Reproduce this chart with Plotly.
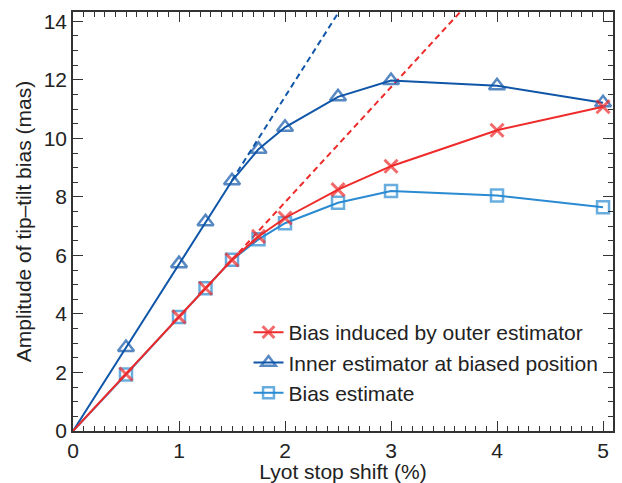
import plotly.graph_objects as go

shift = [0, 0.5, 1, 1.25, 1.5, 1.75, 2, 2.5, 3, 4, 5]
bias_outer = [0, 1.95, 3.9, 4.88, 5.85, 6.65, 7.28, 8.25, 9.05, 10.28, 11.08]
inner_biased = [0, 2.85, 5.72, 7.15, 8.55, 9.63, 10.38, 11.42, 11.98, 11.8, 11.22]
bias_est = [0, 1.93, 3.9, 4.88, 5.85, 6.55, 7.1, 7.8, 8.2, 8.05, 7.65]

inner_lin_x = [1.5, 2.6]
inner_lin_y = [8.57, 14.85]
outer_lin_x = [1.5, 3.8]
outer_lin_y = [5.85, 14.9]

RED = "#ee2a2a"
DBLUE = "#0f56a8"
LBLUE = "#2a8ad2"
FONT = "Liberation Sans, Arial"

def msizes(n, s):
    return [0] + [s] * (n - 1)

fig = go.Figure()
fig.add_trace(go.Scatter(x=inner_lin_x, y=inner_lin_y, mode="lines",
                         line=dict(color=DBLUE, width=2, dash="6px,4px"), showlegend=False))
fig.add_trace(go.Scatter(x=outer_lin_x, y=outer_lin_y, mode="lines",
                         line=dict(color=RED, width=2, dash="6px,4px"), showlegend=False))

fig.add_trace(go.Scatter(x=shift, y=bias_est, mode="lines+markers", name="Bias estimate",
                         line=dict(color=LBLUE, width=2),
                         marker=dict(symbol="square-open", size=msizes(len(shift), 12), color=LBLUE,
                                     line=dict(width=2.5, color=LBLUE))))
fig.add_trace(go.Scatter(x=shift, y=inner_biased, mode="lines+markers", name="Inner estimator at biased position",
                         line=dict(color=DBLUE, width=2),
                         marker=dict(symbol="triangle-up-open", size=msizes(len(shift), 14), color=DBLUE,
                                     line=dict(width=2.5, color=DBLUE))))
fig.add_trace(go.Scatter(x=shift, y=bias_outer, mode="lines+markers", name="Bias induced by outer estimator",
                         line=dict(color=RED, width=2),
                         marker=dict(symbol="x-thin-open", size=msizes(len(shift), 13), color=RED,
                                     line=dict(width=3, color=RED))))

axis_common = dict(
    showline=True, linecolor="#333333", linewidth=1.5, mirror="allticks",
    ticks="inside", ticklen=10, tickwidth=1.2, tickcolor="#333333",
    showgrid=False, zeroline=False, automargin=False,
    tickfont=dict(family=FONT, size=21, color="#222222"),
)
fig.update_xaxes(range=[0, 5.094], dtick=1, tick0=0,
                 minor=dict(dtick=0.1, ticks="inside", ticklen=5, tickcolor="#333333", tickwidth=1),
                 title=dict(text="Lyot stop shift (%)", font=dict(family=FONT, size=21, color="#222222"), standoff=4),
                 **axis_common)
fig.update_yaxes(range=[0, 14.32], dtick=2, tick0=0,
                 minor=dict(dtick=0.5, ticks="inside", ticklen=5, tickcolor="#333333", tickwidth=1),
                 title=dict(text="Amplitude of tip\u2013tilt bias (mas)", font=dict(family=FONT, size=21, color="#222222"), standoff=6),
                 **axis_common)

fig.update_layout(
    width=622, height=483,
    margin=dict(l=73, r=9, t=12, b=52),
    plot_bgcolor="white", paper_bgcolor="white",
    legend=dict(x=0.325, y=0.284, xanchor="left", yanchor="top", traceorder="reversed",
                bgcolor="rgba(0,0,0,0)", font=dict(family=FONT, size=21, color="#222222"),
                itemwidth=30, tracegroupgap=0),
)
fig.write_html("out.html")
